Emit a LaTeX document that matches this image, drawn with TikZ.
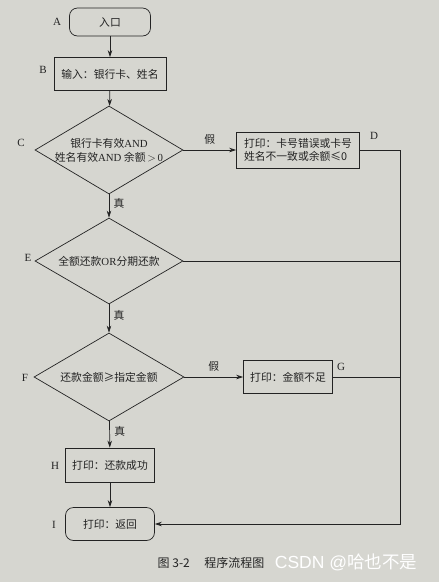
\documentclass[tikz,border=0pt]{standalone}
\usepackage{fontspec}
\setmainfont{Liberation Serif}
\newfontfamily\cjk{Noto Sans CJK SC}
\newfontfamily\wmfont{Liberation Sans}
\usetikzlibrary{shapes.geometric,arrows.meta}
\definecolor{paper}{RGB}{214,214,208}
\definecolor{ink}{RGB}{35,35,35}
\tikzset{
  base/.style={draw=ink, line width=0.7pt, inner sep=0pt, font=\cjk\fontsize{10.8}{13}\selectfont, text=ink},
  procbox/.style={base, rectangle},
  termbox/.style={base, rectangle, rounded corners=8pt},
  dia/.style={base, diamond},
  diatext/.style={font=\cjk\fontsize{10.8}{14}\selectfont, text=ink, align=center},
  arr/.style={draw=ink, line width=0.7pt, -{Stealth[length=7pt,width=4.5pt]}},
  ln/.style={draw=ink, line width=0.7pt},
  tag/.style={font=\rmfamily\fontsize{11}{13}\selectfont, text=ink},
  yn/.style={font=\cjk\fontsize{10.8}{13}\selectfont, text=ink},
}
\begin{document}
\begin{tikzpicture}[x=1pt,y=-1pt]
\fill[paper] (0,0) rectangle (439,582);
\useasboundingbox (0,0) rectangle (439,582);

\node[termbox, minimum width=81pt, minimum height=28pt] (A) at (110,22) {入口};
\node[procbox, minimum width=112pt, minimum height=33pt] (B) at (110,74) {输入：银行卡、姓名};
\node[dia, minimum width=148pt, minimum height=88pt,
  label={[diatext]center:{银行卡有效{\rmfamily AND}\\姓名有效{\rmfamily AND} 余额{\rmfamily\,$>$\,0}}}] (C) at (109,150) {};
\node[procbox, minimum width=123pt, minimum height=36pt, align=left] (D) at (298,150) {打印：卡号错误或卡号\\姓名不一致或余额≤0};
\node[dia, minimum width=148pt, minimum height=86pt,
  label={[diatext]center:{全额还款{\rmfamily OR}分期还款}}] (E) at (109,261) {};
\node[dia, minimum width=150pt, minimum height=88pt,
  label={[diatext]center:{还款金额≥指定金额}}] (F) at (109,377) {};
\node[procbox, minimum width=89pt, minimum height=33pt] (G) at (288,377) {打印：金额不足};
\node[procbox, minimum width=89pt, minimum height=34pt] (H) at (110,465) {打印：还款成功};
\node[termbox, minimum width=89pt, minimum height=33pt] (I) at (110,524) {打印：返回};

\coordinate (rx) at (400,0);

\draw[arr] (A) -- (B);
\draw[arr] (B) -- (C);
\draw[arr] (C) -- node[yn, right, pos=0.4, xshift=1pt]{真} (E);
\draw[arr] (E) -- node[yn, right, pos=0.4, xshift=1pt]{真} (F);
\draw[arr] (F) -- node[yn, right, pos=0.4, xshift=1pt]{真} (H);
\draw[arr] (H) -- (I);
\draw[arr] (C.east) -- node[yn, above, yshift=2pt]{假} (D.west);
\draw[arr] (F.east) -- node[yn, above, yshift=2pt]{假} (G.west);
\draw[arr] (D.east) -| (rx |- I.east) -- (I.east);
\draw[ln] (E.east) -- (E.east -| rx);
\draw[ln] (G.east) -- (G.east -| rx);

\node[tag] (tA) at (57,22) {A};
\node[tag] (tB) at (43,70) {B};
\node[tag] (tC) at (21,143) {C};
\node[tag] (tD) at (374,136) {D};
\node[tag] (tE) at (28,258) {E};
\node[tag] (tF) at (25,378) {F};
\node[tag] (tG) at (341,367) {G};
\node[tag] (tH) at (55,466) {H};
\node[tag] (tI) at (54,525) {I};

\node[font=\cjk\fontsize{12}{14}\selectfont, text=ink] (cap) at (211,563) {图 3-2\hspace{1.2em}程序流程图};
\node[font=\wmfont\fontsize{17.5}{20}\selectfont, text=white] (wm) at (346,562) {CSDN @{\cjk 哈也不是}};
\end{tikzpicture}
\end{document}
